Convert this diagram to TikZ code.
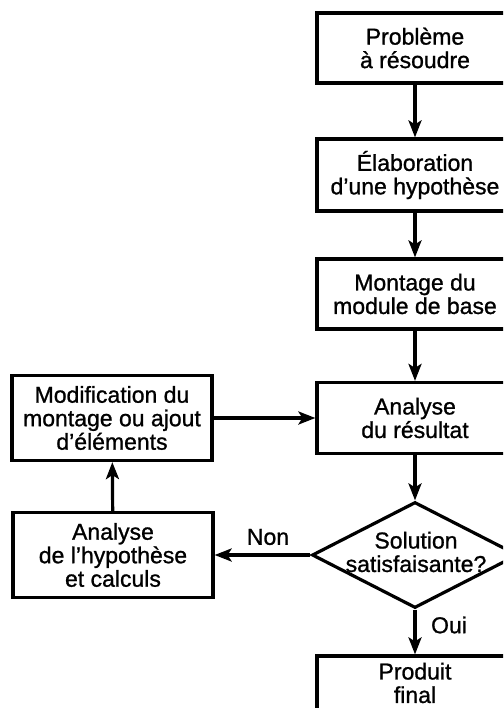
\documentclass[tikz,border=0pt]{standalone}
\usepackage{fontspec}
\setmainfont{Liberation Sans}[FakeBold=1]
\usetikzlibrary{shapes.geometric,arrows.meta}
\begin{document}
\begin{tikzpicture}[x=1pt,y=-1pt,
  every node/.style={font=\fontsize{23}{23.5}\selectfont, align=center, inner sep=0pt},
  box/.style={draw, line width=3.2pt, minimum width=196pt},
  lbox/.style={draw, line width=3.2pt, minimum width=200pt, minimum height=85pt},
  conn/.style={line width=3.2pt, -{Stealth[length=17pt,width=13pt,inset=4pt]}}]
\useasboundingbox (0,0) rectangle (503,708);
\clip (0,0) rectangle (503,708);
\fill[white] (0,0) rectangle (503,708);
\node[box, minimum height=70pt] (p1) at (415,48) {Problème\\à résoudre};
\node[box, minimum height=72pt] (p2) at (415,175) {Élaboration\\d’une hypothèse};
\node[box, minimum height=70pt] (p3) at (415,294) {Montage du\\module de base};
\node[box, minimum height=71pt] (p4) at (415,418) {Analyse\\du résultat};
\node[draw, diamond, line width=3.2pt, minimum width=206pt, minimum height=106pt, aspect=1.94] (dia) at (415,555) {};
\node (diat) at (416,552) {Solution\\satisfaisante?};
\node[box, minimum height=64pt] (p5) at (415,688) {};
\node (p5t) at (415,683) {Produit\\final};
\node[lbox] (mod) at (112,418) {Modification du\\montage ou ajout\\d’éléments};
\node[lbox] (hyp) at (113,555) {Analyse\\de l’hypothèse\\et calculs};
\node (non) at (268,537) {Non};
\node (oui) at (449,625) {Oui};
\draw[conn] (p1) -- (p2);
\draw[conn] (p2) -- (p3);
\draw[conn] (p3) -- (p4);
\draw[conn] (p4) -- (dia);
\draw[conn] (dia) -- (p5);
\draw[conn] (dia) -- (hyp);
\draw[conn] (hyp) -- (mod);
\draw[conn] (mod) -- (p4);
\end{tikzpicture}
\end{document}
